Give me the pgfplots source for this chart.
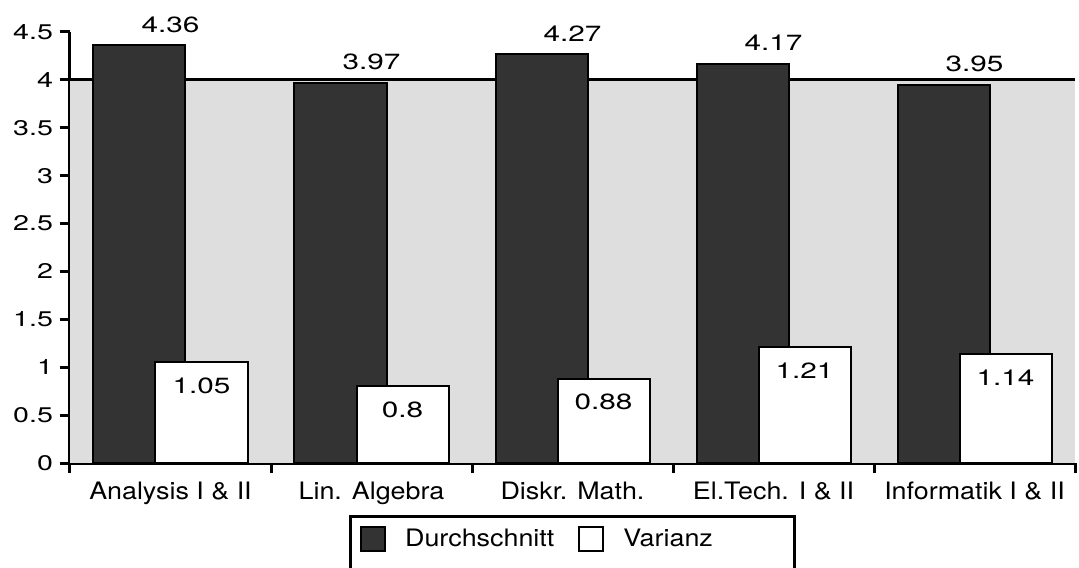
\documentclass[border=0pt]{standalone}
\usepackage{fontspec}
\setmainfont{TeX Gyre Heros}[FakeStretch=1.12]
\newfontfamily\numfont{TeX Gyre Heros}[FakeStretch=1.35]
\usepackage{pgfplots}
\pgfplotsset{compat=1.18}

\begin{document}
\begin{tikzpicture}
\begin{axis}[
    scale only axis,
    width=502.5pt, height=215.5pt,
    xmin=-0.5, xmax=4.5, ymin=0, ymax=4.5,
    axis x line=bottom, axis y line=left,
    axis line style={-, line width=1.5pt},
    clip=false,
    ytick={0,0.5,1,1.5,2,2.5,3,3.5,4,4.5},
    xtick={-0.5,0.5,1.5,2.5,3.5,4.5},
    x tick label as interval,
    xticklabels={Analysis I \& II, Lin. Algebra, Diskr. Math., El.Tech. I \& II, Informatik I \& II},
    tick align=outside, major tick length=5pt,
    tick style={line width=1.5pt, black},
    /pgf/number format/assume math mode=true,
    yticklabel style={font=\numfont\fontsize{10.6}{12}\selectfont},
    xticklabel style={font=\fontsize{12}{14}\selectfont, yshift=-1pt},
    legend columns=2,
    legend style={at={(0.5,0)}, anchor=north, yshift=-26pt,
      draw=black, line width=1.5pt, inner xsep=5pt, inner ysep=4pt,
      font=\fontsize{12}{14}\selectfont,
      /tikz/every odd column/.append style={column sep=7.5pt},
      /tikz/every even column/.append style={column sep=10pt}},
  ]
  % stippled background up to 4
  \addplot[draw=none, fill=black!13, forget plot]
    coordinates {(-0.5,4) (4.5,4)} \closedcycle;
  \addplot[line width=1.6pt, black, forget plot]
    coordinates {(-0.5,4) (4.5,4)};

  \addplot[ybar, bar width=46pt, bar shift=-15.5pt, fill=black!80, draw=black, line width=1pt,
    nodes near coords,
    every node near coord/.append style={text=black, font=\numfont\fontsize{11}{13}\selectfont, anchor=south, yshift=2.5pt},
    legend image code/.code={\draw[fill=black!80, draw=black, line width=1pt] (0pt,-6pt) rectangle (12pt,6pt); \path (0pt,-22pt);}]
    coordinates {(0,4.36) (1,3.97) (2,4.27) (3,4.17) (4,3.95)};
  \addlegendentry{Durchschnitt}

  \addplot[ybar, bar width=46pt, bar shift=15.5pt, fill=white, draw=black, line width=1pt,
    nodes near coords,
    every node near coord/.append style={text=black, font=\numfont\fontsize{11}{13}\selectfont, anchor=north, yshift=-4pt, xshift=15.5pt},
    legend image code/.code={\draw[fill=white, draw=black, line width=1pt] (0pt,-6pt) rectangle (12pt,6pt);}]
    coordinates {(0,1.05) (1,0.8) (2,0.88) (3,1.21) (4,1.14)};
  \addlegendentry{Varianz\rule{34pt}{0pt}}
\end{axis}
\pgfresetboundingbox
\path[use as bounding box] ([shift={(-35pt,-52pt)}]current axis.south west) rectangle ([shift={(2pt,16pt)}]current axis.north east);
\end{tikzpicture}
\end{document}
